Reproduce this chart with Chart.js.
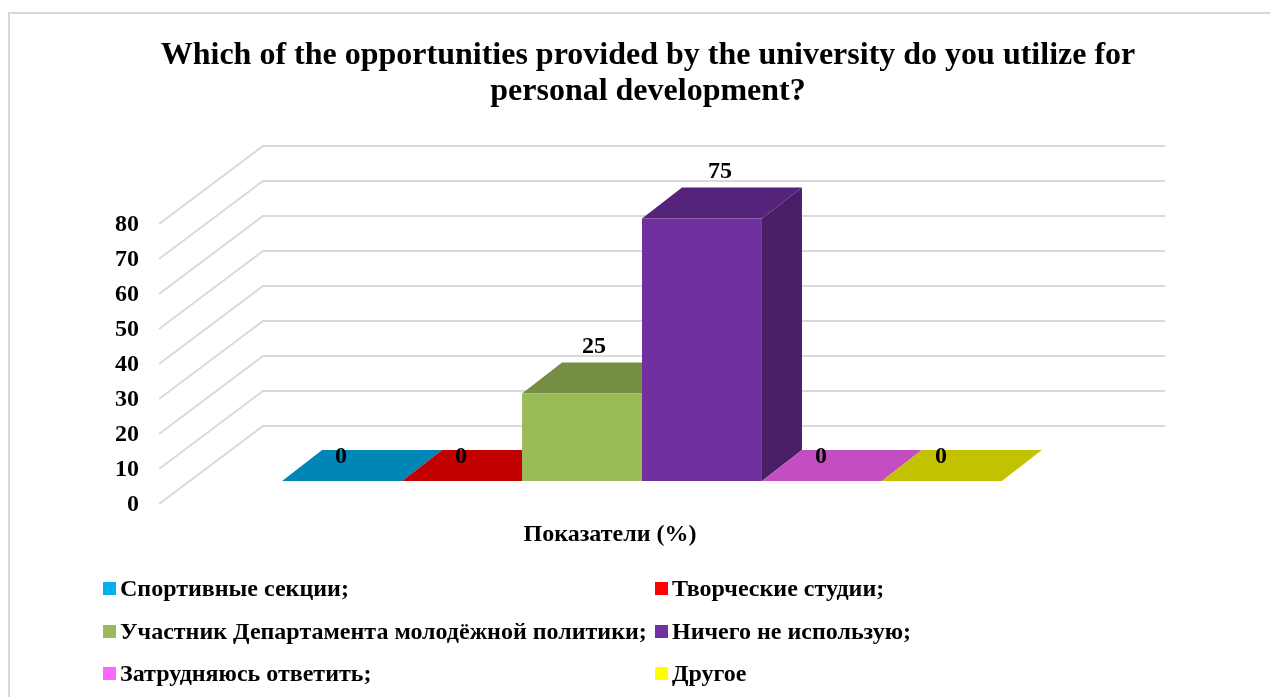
<!DOCTYPE html>
<html lang="ru">
<head>
<meta charset="utf-8">
<title>University opportunities</title>
<script src="https://cdn.jsdelivr.net/npm/chart.js@4/dist/chart.umd.min.js"></script>
<style>
  html, body { margin: 0; padding: 0; background: #fff; overflow: hidden; width: 1270px; height: 697px; }
  #frame { position: absolute; left: 8px; top: 12px; width: 1300px; height: 720px; border: 2px solid #d9d9d9; }
  #myChart { position: absolute; left: 0; top: 0; }
  #legend { position: absolute; left: 0; top: 0; }
  .item { position: absolute; height: 28px; line-height: 28px; white-space: nowrap;
          font: bold 24px "Liberation Serif", serif; color: #000; }
  .item i { position: absolute; left: 0; top: 7px; width: 13px; height: 13px; }
  .item span { position: absolute; left: 17px; top: 0; }
</style>
</head>
<body>
<div id="frame"></div>
<canvas id="myChart" width="1270" height="697"></canvas>
<div id="legend"></div>
<script>
    //chart data
    const categories = ["Показатели (%)"];
    const seriesNames = [
        "Спортивные секции;",
        "Творческие студии;",
        "Участник Департамента молодёжной политики;",
        "Ничего не использую;",
        "Затрудняюсь ответить;",
        "Другое"];
    const seriesValues = [0, 0, 25, 75, 0, 0];
    const seriesColors = ["#00B0F0", "#FF0000", "#9BBB59", "#7030A0", "#FF66FF", "#FFFF00"];
    const titleLines = [
        "Which of the opportunities provided by the university do you utilize for",
        "personal development?"];

    //fonts
    const serif = '"Liberation Serif", serif';

    //depth of the walls and bars, relative to the plane the bars stand on
    const wallBack = {dx: 72, dy: -55};
    const wallFront = {dx: -32, dy: 23};
    const barDepth = {dx: 40, dy: -31};

    //darken a hex colour for the top and side faces
    function shade(hex, k) {
        const n = parseInt(hex.slice(1), 16);
        const r = Math.round((n >> 16 & 255) * k);
        const g = Math.round((n >> 8 & 255) * k);
        const b = Math.round((n & 255) * k);
        return "rgb(" + r + "," + g + "," + b + ")";
    }

    function face(ctx, color, pts) {
        ctx.fillStyle = color;
        ctx.beginPath();
        ctx.moveTo(pts[0][0], pts[0][1]);
        for (let i = 1; i < pts.length; i++) ctx.lineTo(pts[i][0], pts[i][1]);
        ctx.closePath();
        ctx.fill();
    }

    //back wall and side wall gridlines, one for each tick of the y axis
    const wallGrid = {
        id: "wallGrid",
        beforeDatasetsDraw(chart) {
            const ctx = chart.ctx;
            const y = chart.scales.y;
            const area = chart.chartArea;
            ctx.save();
            ctx.strokeStyle = "#d9d9d9";
            ctx.lineWidth = 2;
            y.ticks.forEach(function (t) {
                const py = y.getPixelForValue(t.value);
                ctx.beginPath();
                ctx.moveTo(area.left + wallFront.dx, py + wallFront.dy);
                ctx.lineTo(area.left + wallBack.dx, py + wallBack.dy);
                ctx.lineTo(area.right + wallBack.dx, py + wallBack.dy);
                ctx.stroke();
            });
            ctx.restore();
        }
    };

    //top and side faces of every bar, the library paints the front faces afterwards
    const barFaces = {
        id: "barFaces",
        beforeDatasetsDraw(chart) {
            const ctx = chart.ctx;
            const d = barDepth;
            ctx.save();
            chart.data.datasets.forEach(function (ds, i) {
                const bar = chart.getDatasetMeta(i).data[0];
                const l = bar.x - bar.width / 2;
                const r = bar.x + bar.width / 2;
                if (bar.base - bar.y > 0) {
                    face(ctx, shade(ds.backgroundColor, 0.64), [
                        [r, bar.y], [r + d.dx, bar.y + d.dy],
                        [r + d.dx, bar.base + d.dy], [r, bar.base]]);
                }
                face(ctx, shade(ds.backgroundColor, 0.76), [
                    [l, bar.y], [l + d.dx, bar.y + d.dy],
                    [r + d.dx, bar.y + d.dy], [r, bar.y]]);
            });
            ctx.restore();
        }
    };

    //value labels above the bars
    const valueLabels = {
        id: "valueLabels",
        afterDatasetsDraw(chart) {
            const ctx = chart.ctx;
            ctx.save();
            ctx.fillStyle = "#000";
            ctx.font = "bold 24px " + serif;
            ctx.textAlign = "center";
            ctx.textBaseline = "middle";
            chart.data.datasets.forEach(function (ds, i) {
                const bar = chart.getDatasetMeta(i).data[0];
                const v = ds.data[0];
                const dx = v === 0 ? -1 : 9 + v * 0.12;
                const dy = v === 0 ? 6.5 : -15.5;
                ctx.fillText(String(v), bar.x + dx, bar.y + barDepth.dy + dy);
            });
            ctx.restore();
        }
    };

    //one dataset per answer, like a clustered column
    const datasets = seriesNames.map(function (name, i) {
        return {
            label: name,
            data: [seriesValues[i]],
            backgroundColor: seriesColors[i],
            borderWidth: 0,
            categoryPercentage: 0.798,
            barPercentage: 1
        };
    });

    const myChart = new Chart(document.getElementById("myChart"), {
        type: "bar",
        data: {labels: categories, datasets: datasets},
        plugins: [wallGrid, barFaces, valueLabels],
        options: {
            responsive: false,
            animation: false,
            layout: {padding: {left: 26, right: 0, top: 0, bottom: 0}},
            plugins: {
                legend: {display: false},
                tooltip: {enabled: false},
                title: {
                    display: true,
                    text: titleLines,
                    color: "#000",
                    font: {family: serif, size: 32, weight: "bold", lineHeight: 1.125},
                    padding: {top: 38, bottom: 91}
                }
            },
            scales: {
                x: {
                    grid: {display: false, drawTicks: false},
                    border: {display: false},
                    ticks: {
                        color: "#000",
                        font: {family: serif, size: 24, weight: "bold"},
                        padding: 39,
                        labelOffset: wallFront.dx,
                        maxRotation: 0
                    },
                    afterFit(scale) { scale.height = 216; }
                },
                y: {
                    min: 0,
                    max: 80,
                    grid: {display: false, drawTicks: false},
                    border: {display: false},
                    ticks: {
                        stepSize: 10,
                        color: "#000",
                        font: {family: serif, size: 24, weight: "bold"},
                        padding: 52,
                        labelOffset: wallFront.dy + 1
                    },
                    afterFit(scale) { scale.width = 165; }
                },
                //empty axis that keeps the right margin free of the plot
                margin: {
                    position: "right",
                    display: true,
                    grid: {display: false, drawTicks: false},
                    border: {display: false},
                    ticks: {display: false},
                    afterFit(scale) { scale.width = 177; }
                }
            }
        }
    });

    //legend in two columns, filled left to right
    const legendBox = document.getElementById("legend");
    myChart.data.datasets.forEach(function (ds, i) {
        const item = document.createElement("div");
        item.className = "item";
        item.style.left = (i % 2 === 0 ? 103 : 655) + "px";
        item.style.top = (575 + Math.floor(i / 2) * 42.5) + "px";
        const box = document.createElement("i");
        box.style.background = ds.backgroundColor;
        const text = document.createElement("span");
        text.textContent = ds.label;
        item.appendChild(box);
        item.appendChild(text);
        legendBox.appendChild(item);
    });
</script>
</body>
</html>
